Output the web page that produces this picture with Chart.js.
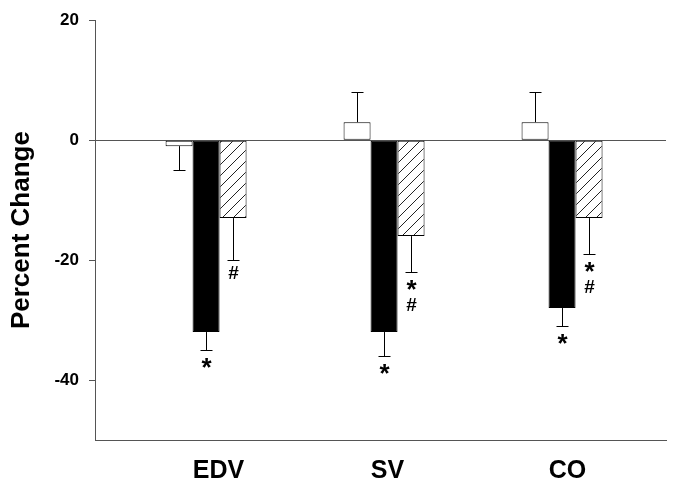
<!DOCTYPE html>
<html>
<head>
<meta charset="utf-8">
<script src="https://cdn.jsdelivr.net/npm/chart.js@4/dist/chart.umd.min.js"></script>
<style>
  html, body { margin: 0; padding: 0; background: #fff; }
</style>
</head>
<body>
<canvas id="chart" width="676" height="490"></canvas>
<script>
const categories = ['EDV', 'SV', 'CO'];

// white bars
const whiteValues = [-1, 3, 3];
const whiteErrors = [4, 5, 5];
// black bars
const blackValues = [-32, -32, -28];
const blackErrors = [3, 4, 3];
// hatched bars
const hatchValues = [-13, -16, -13];
const hatchErrors = [7, 6, 6];

// significance symbols under each bar
const whiteMarks = [[], [], []];
const blackMarks = [['*'], ['*'], ['*']];
const hatchMarks = [['#'], ['*', '#'], ['*', '#']];

const yTicks = [20, 0, -20, -40];

const FONT = 'Liberation Sans, Arial, sans-serif';
const AXIS = '#555';
const LABEL_SHIFT = -0.075; // labels start at the left edge of the black bar

const canvas = document.getElementById('chart');
const ctx = canvas.getContext('2d');

function makeHatch() {
  const s = 11;
  const c = document.createElement('canvas');
  c.width = s; c.height = s;
  const g = c.getContext('2d');
  g.fillStyle = '#fff';
  g.fillRect(0, 0, s, s);
  g.strokeStyle = '#222';
  g.lineWidth = 1;
  g.beginPath();
  g.moveTo(0, s); g.lineTo(s, 0);
  g.moveTo(-1, 1); g.lineTo(1, -1);
  g.moveTo(s - 1, s + 1); g.lineTo(s + 1, s - 1);
  g.stroke();
  return ctx.createPattern(c, 'repeat');
}

const toPoints = vals => vals.map((v, i) => ({ x: i, y: v }));

// error bars (one sided, away from zero) and the * / # symbols
const errorBars = {
  id: 'errorBars',
  afterDatasetsDraw(chart) {
    const c = chart.ctx;
    const yScale = chart.scales.y;
    c.save();
    c.strokeStyle = '#000';
    c.lineWidth = 1;
    chart.data.datasets.forEach((ds, di) => {
      const meta = chart.getDatasetMeta(di);
      meta.data.forEach((bar, i) => {
        const v = ds.data[i].y;
        const e = ds.errors[i];
        const endVal = v < 0 ? v - e : v + e;
        const yEnd = Math.round(yScale.getPixelForValue(endVal)) + 0.5;
        const x = Math.round(bar.x) + 0.5;
        c.beginPath();
        c.moveTo(x, bar.y);
        c.lineTo(x, yEnd);
        c.moveTo(x - 6, yEnd);
        c.lineTo(x + 6, yEnd);
        c.stroke();

        const marks = ds.marks[i] || [];
        c.fillStyle = '#000';
        c.textAlign = 'center';
        c.textBaseline = 'alphabetic';
        marks.forEach((m, k) => {
          const size = m === '*' ? 26 : 19;
          c.font = 'bold ' + size + 'px ' + FONT;
          const tm = c.measureText(m);
          const centre = yEnd + 12 + k * 20;
          const base = centre + (tm.actualBoundingBoxAscent - tm.actualBoundingBoxDescent) / 2;
          c.fillText(m, x, base);
        });
      });
    });
    c.restore();
  }
};

Chart.defaults.color = '#000';
Chart.defaults.font.family = FONT;

new Chart(ctx, {
  type: 'bar',
  data: {
    datasets: [
      {
        label: 'White',
        data: toPoints(whiteValues),
        errors: whiteErrors,
        marks: whiteMarks,
        backgroundColor: '#fff',
        borderColor: '#000',
        borderWidth: 1,
        borderSkipped: false
      },
      {
        label: 'Black',
        data: toPoints(blackValues),
        errors: blackErrors,
        marks: blackMarks,
        backgroundColor: '#000',
        borderColor: '#000',
        borderWidth: 1,
        borderSkipped: false
      },
      {
        label: 'Hatched',
        data: toPoints(hatchValues),
        errors: hatchErrors,
        marks: hatchMarks,
        backgroundColor: makeHatch(),
        borderColor: '#000',
        borderWidth: 1,
        borderSkipped: false
      }
    ]
  },
  options: {
    responsive: false,
    animation: false,
    barPercentage: 1,
    categoryPercentage: 0.455,
    layout: { padding: { top: 17, right: 10, bottom: 0, left: 0 } },
    plugins: {
      legend: { display: false },
      tooltip: { enabled: false }
    },
    scales: {
      x: {
        type: 'linear',
        offset: false,
        min: -0.624,
        max: 2.584,
        afterBuildTicks: s => { s.ticks = categories.map((c, i) => ({ value: i + LABEL_SHIFT })); },
        afterFit: s => { s.height = 50; },
        grid: { display: false, drawTicks: false },
        border: { color: AXIS, width: 1 },
        ticks: {
          callback: (v, idx) => categories[idx],
          align: 'start',
          autoSkip: false,
          maxRotation: 0,
          padding: 16,
          color: '#000',
          font: { size: 25, weight: 'bold' }
        }
      },
      y: {
        min: -50,
        max: 20,
        afterBuildTicks: s => { s.ticks = yTicks.map(v => ({ value: v })); },
        afterFit: s => { s.width = 95; },
        grid: {
          drawOnChartArea: true,
          color: c => (c.tick && c.tick.value === 0 ? AXIS : 'rgba(0,0,0,0)'),
          tickColor: AXIS,
          tickLength: 6,
          lineWidth: 1
        },
        border: { color: AXIS, width: 1 },
        ticks: {
          padding: 10,
          color: '#000',
          font: { size: 17, weight: 'bold' }
        },
        title: {
          display: true,
          text: 'Percent Change',
          color: '#000',
          padding: { top: 6, bottom: 0 },
          font: { size: 26, weight: 'bold' }
        }
      }
    }
  },
  plugins: [errorBars]
});
</script>
</body>
</html>
